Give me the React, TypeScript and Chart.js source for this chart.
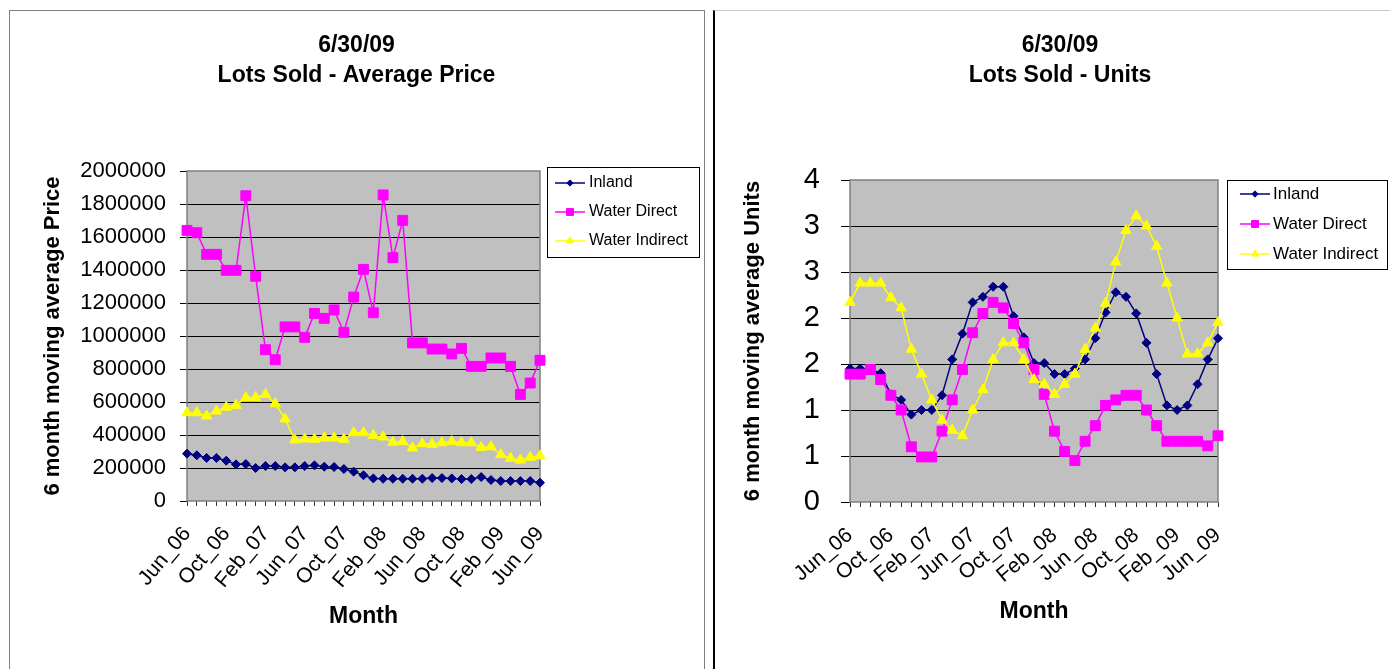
import React, { useEffect, useRef } from 'react';
import { Chart, registerables } from 'chart.js';

Chart.register(...registerables);

// ---------------- DATA ----------------
const months = [
  'Jun_06', 'Jul_06', 'Aug_06', 'Sep_06', 'Oct_06', 'Nov_06', 'Dec_06',
  'Jan_07', 'Feb_07', 'Mar_07', 'Apr_07', 'May_07', 'Jun_07', 'Jul_07', 'Aug_07', 'Sep_07', 'Oct_07', 'Nov_07', 'Dec_07',
  'Jan_08', 'Feb_08', 'Mar_08', 'Apr_08', 'May_08', 'Jun_08', 'Jul_08', 'Aug_08', 'Sep_08', 'Oct_08', 'Nov_08', 'Dec_08',
  'Jan_09', 'Feb_09', 'Mar_09', 'Apr_09', 'May_09', 'Jun_09',
];
const shownMonths = ['Jun_06', 'Oct_06', 'Feb_07', 'Jun_07', 'Oct_07', 'Feb_08', 'Jun_08', 'Oct_08', 'Feb_09', 'Jun_09'];

const seriesNames = ['Inland', 'Water Direct', 'Water Indirect'];

const priceInland = [
  287000, 277000, 261000, 261000, 244000, 222000, 224000, 200000, 212000, 212000, 204000, 204000,
  212000, 216000, 208000, 206000, 194000, 178000, 156000, 137000, 135000, 135000, 135000, 135000,
  135000, 139000, 139000, 137000, 133000, 133000, 145000, 127000, 121000, 121000, 121000, 121000, 111000,
];
const priceWaterDirect = [
  1640000, 1626000, 1495000, 1495000, 1398000, 1398000, 1850000, 1362000, 917000, 856000, 1055000, 1055000,
  992000, 1137000, 1107000, 1158000, 1022000, 1236000, 1404000, 1141000, 1855000, 1475000, 1701000, 958000,
  958000, 921000, 921000, 891000, 925000, 816000, 816000, 867000, 867000, 816000, 646000, 715000, 853000,
];
const priceWaterIndirect = [
  535000, 535000, 515000, 545000, 568000, 580000, 628000, 628000, 646000, 590000, 497000, 370000,
  376000, 374000, 382000, 382000, 374000, 414000, 414000, 398000, 388000, 356000, 360000, 321000,
  347000, 344000, 353000, 360000, 353000, 353000, 325000, 329000, 281000, 259000, 248000, 265000, 273000,
];

const unitsInland = [
  1.45, 1.45, 1.44, 1.40, 1.17, 1.11, 0.95, 1.0, 1.0, 1.16, 1.55, 1.83,
  2.17, 2.23, 2.34, 2.34, 2.02, 1.79, 1.51, 1.51, 1.39, 1.39, 1.45, 1.55,
  1.78, 2.06, 2.28, 2.23, 2.05, 1.73, 1.39, 1.05, 1.0, 1.05, 1.28, 1.55, 1.78,
];
const unitsWaterDirect = [
  1.39, 1.39, 1.44, 1.33, 1.16, 1.0, 0.60, 0.49, 0.49, 0.77, 1.11, 1.44,
  1.84, 2.05, 2.17, 2.11, 1.94, 1.73, 1.44, 1.17, 0.77, 0.55, 0.45, 0.66,
  0.83, 1.05, 1.11, 1.16, 1.16, 1.0, 0.83, 0.66, 0.66, 0.66, 0.66, 0.61, 0.72,
];
const unitsWaterIndirect = [
  2.17, 2.38, 2.38, 2.38, 2.22, 2.11, 1.66, 1.39, 1.11, 0.89, 0.78, 0.72,
  1.0, 1.22, 1.55, 1.73, 1.73, 1.55, 1.33, 1.28, 1.17, 1.28, 1.39, 1.66,
  1.89, 2.16, 2.61, 2.95, 3.11, 3.0, 2.78, 2.38, 2.0, 1.61, 1.61, 1.73, 1.95,
];

// ---------------- STYLE ----------------
const FONT = '"Liberation Sans", Arial, Helvetica, sans-serif';
const seriesColors = ['#000080', '#FF00FF', '#FFFF00'];
const seriesMarkers = ['rectRot', 'rect', 'triangle'];
const seriesRadius = [4.5, 7, 6];
const seriesOrder = [3, 2, 1];

function drawMarker(ctx: CanvasRenderingContext2D, style: string, x: number, y: number, r: number, color: string) {
  ctx.save();
  ctx.fillStyle = color;
  ctx.strokeStyle = color;
  ctx.lineWidth = 1;
  ctx.beginPath();
  if (style === 'rectRot') {
    ctx.moveTo(x, y - r);
    ctx.lineTo(x + r, y);
    ctx.lineTo(x, y + r);
    ctx.lineTo(x - r, y);
  } else if (style === 'rect') {
    const s = Math.SQRT1_2 * r;
    ctx.rect(x - s, y - s, 2 * s, 2 * s);
  } else {
    let a = 0;
    ctx.moveTo(x + Math.sin(a) * r, y - Math.cos(a) * r);
    a += (2 * Math.PI) / 3;
    ctx.lineTo(x + Math.sin(a) * r, y - Math.cos(a) * r);
    a += (2 * Math.PI) / 3;
    ctx.lineTo(x + Math.sin(a) * r, y - Math.cos(a) * r);
  }
  ctx.closePath();
  ctx.fill();
  ctx.stroke();
  ctx.restore();
}

const plotFrame = {
  id: 'plotFrame',
  beforeDraw(chart: any) {
    const { ctx, chartArea: a } = chart;
    ctx.save();
    ctx.fillStyle = '#C0C0C0';
    ctx.fillRect(a.left, a.top, a.right - a.left, a.bottom - a.top);
    ctx.restore();
  },
  beforeDatasetsDraw(chart: any) {
    const { ctx, chartArea: a } = chart;
    ctx.save();
    ctx.strokeStyle = '#808080';
    ctx.lineWidth = 1.5;
    ctx.strokeRect(a.left, a.top, a.right - a.left, a.bottom - a.top);
    ctx.restore();
  },
};

type LegendGeo = {
  gap: number; top: number; width: number; height: number;
  rows: number[]; lineStart: number; lineLen: number; textX: number; fontSize: number;
};

function makeLegendPlugin(g: LegendGeo) {
  return {
    id: 'boxLegend',
    afterDraw(chart: any) {
      const { ctx, chartArea } = chart;
      const x0 = Math.round(chartArea.right + g.gap);
      ctx.save();
      ctx.strokeStyle = '#000';
      ctx.lineWidth = 1;
      ctx.strokeRect(x0 + 0.5, g.top + 0.5, g.width, g.height);
      ctx.font = `${g.fontSize}px ${FONT}`;
      ctx.textBaseline = 'middle';
      ctx.textAlign = 'left';
      chart.data.datasets.forEach((ds: any, i: number) => {
        const y = g.rows[i];
        const lx0 = x0 + g.lineStart;
        const lx1 = lx0 + g.lineLen;
        ctx.strokeStyle = ds.borderColor;
        ctx.lineWidth = 1.5;
        ctx.beginPath();
        ctx.moveTo(lx0, y);
        ctx.lineTo(lx1, y);
        ctx.stroke();
        drawMarker(ctx, ds.pointStyle, (lx0 + lx1) / 2, y, ds.pointRadius * 0.7, ds.pointBackgroundColor);
        ctx.fillStyle = '#000';
        ctx.fillText(ds.label, x0 + g.textX, y);
      });
      ctx.restore();
    },
  };
}

type ChartGeo = {
  width: number; height: number;
  title: string[]; titlePadTop: number; titlePadBottom: number;
  yMax: number; yStep: number; yFormat: (v: number) => string;
  yTitle: string; yWidth: number; yTickSize: number; yTickLen: number; yTickPad: number; yTitlePad: number;
  xHeight: number; xTitlePad: number; xTickPad: number; xRotation: number;
  rightSpace: number;
  legend: LegendGeo;
};

function buildConfig(series: number[][], g: ChartGeo): any {
  return {
    type: 'line',
    data: {
      labels: months,
      datasets: series.map((data, i) => ({
        label: seriesNames[i],
        data,
        borderColor: seriesColors[i],
        backgroundColor: seriesColors[i],
        pointBackgroundColor: seriesColors[i],
        pointBorderColor: seriesColors[i],
        pointStyle: seriesMarkers[i],
        pointRadius: seriesRadius[i],
        pointBorderWidth: 1,
        borderWidth: 1.5,
        tension: 0,
        fill: false,
        order: seriesOrder[i],
      })),
    },
    options: {
      responsive: false,
      animation: false,
      events: [],
      layout: { padding: 0 },
      plugins: {
        legend: { display: false },
        tooltip: { enabled: false },
        title: {
          display: true,
          text: g.title,
          color: '#000',
          font: { family: FONT, size: 23, weight: 'bold', lineHeight: '30px' },
          padding: { top: g.titlePadTop, bottom: g.titlePadBottom },
        },
      },
      scales: {
        x: {
          type: 'category',
          offset: false,
          ticks: {
            autoSkip: false,
            maxRotation: g.xRotation,
            minRotation: g.xRotation,
            color: '#000',
            padding: g.xTickPad,
            font: { family: FONT, size: 21 },
            callback: (_v: any, i: number) => (shownMonths.includes(months[i]) ? months[i] : ''),
          },
          grid: { drawOnChartArea: false, drawTicks: true, tickLength: 5, tickColor: '#333', lineWidth: 1 },
          border: { display: false },
          title: {
            display: true,
            text: 'Month',
            color: '#000',
            font: { family: FONT, size: 23, weight: 'bold', lineHeight: 1.2 },
            padding: { top: 0, bottom: g.xTitlePad },
          },
          afterFit: (s: any) => { s.height = g.xHeight; },
        },
        y: {
          type: 'linear',
          position: 'left',
          min: 0,
          max: g.yMax,
          ticks: {
            stepSize: g.yStep,
            color: '#000',
            padding: g.yTickPad,
            font: { family: FONT, size: g.yTickSize },
            callback: (v: any) => g.yFormat(Number(v)),
          },
          grid: {
            color: (c: any) => (c.tick && (c.tick.value === 0 || c.tick.value === g.yMax) ? 'rgba(0,0,0,0)' : '#000'),
            lineWidth: 1,
            drawTicks: true,
            tickLength: g.yTickLen,
            tickColor: '#000',
          },
          border: { display: false },
          title: {
            display: true,
            text: g.yTitle,
            color: '#000',
            font: { family: FONT, size: 22, weight: 'bold', lineHeight: 1.2 },
            padding: { top: g.yTitlePad, bottom: 0 },
          },
          afterFit: (s: any) => { s.width = g.yWidth; },
        },
        legendSpace: {
          type: 'linear',
          position: 'right',
          display: true,
          grid: { display: false, drawTicks: false },
          border: { display: false },
          ticks: { display: false },
          afterFit: (s: any) => { s.width = g.rightSpace; },
        },
      },
    },
    plugins: [plotFrame, makeLegendPlugin(g.legend)],
  };
}

const priceGeo: ChartGeo = {
  width: 693, height: 658,
  title: ['6/30/09', 'Lots Sold - Average Price'], titlePadTop: 20, titlePadBottom: 80,
  yMax: 2000000, yStep: 200000, yFormat: (v) => String(v),
  yTitle: '6 month moving average Price', yWidth: 177, yTickSize: 22, yTickLen: 7, yTickPad: 14, yTitlePad: 30,
  xHeight: 168, xTitlePad: 39, xTickPad: 16, xRotation: 50,
  rightSpace: 163,
  legend: { gap: 7, top: 156, width: 152, height: 90, rows: [172, 201, 230], lineStart: 8, lineLen: 30, textX: 42, fontSize: 16 },
};

const unitsGeo: ChartGeo = {
  width: 690, height: 658,
  title: ['6/30/09', 'Lots Sold - Units'], titlePadTop: 20, titlePadBottom: 89,
  yMax: 3.5, yStep: 0.5, yFormat: (v) => String(Math.round(v)),
  yTitle: '6 month moving average Units', yWidth: 135, yTickSize: 29, yTickLen: 9, yTickPad: 21, yTitlePad: 25,
  xHeight: 167, xTitlePad: 44, xTickPad: 16, xRotation: 40,
  rightSpace: 187,
  legend: { gap: 9, top: 169, width: 160, height: 89, rows: [183, 213, 243], lineStart: 13, lineLen: 30, textX: 46, fontSize: 17 },
};

function LineChart({ series, geo }: { series: number[][]; geo: ChartGeo }) {
  const ref = useRef<HTMLCanvasElement | null>(null);
  useEffect(() => {
    if (!ref.current) return;
    const chart = new Chart(ref.current, buildConfig(series, geo));
    return () => chart.destroy();
  }, [series, geo]);
  return (
    <canvas
      ref={ref}
      width={geo.width}
      height={geo.height}
      style={{ display: 'block', width: geo.width, height: geo.height }}
    />
  );
}

const priceSeries = [priceInland, priceWaterDirect, priceWaterIndirect];
const unitsSeries = [unitsInland, unitsWaterDirect, unitsWaterIndirect];

export default function App() {
  return (
    <div style={{ position: 'fixed', left: 0, top: 0, width: 1390, height: 669, overflow: 'hidden', background: '#fff' }}>
      <div
        style={{
          position: 'absolute', left: 9, top: 10, width: 696, height: 700,
          boxSizing: 'border-box', border: '1px solid #808080', overflow: 'hidden',
        }}
      >
        <LineChart series={priceSeries} geo={priceGeo} />
      </div>
      <div
        style={{
          position: 'absolute', left: 713, top: 10, width: 700, height: 700,
          boxSizing: 'border-box', borderLeft: '2px solid #000', borderTop: '1px solid #C8C8C8', overflow: 'hidden',
        }}
      >
        <LineChart series={unitsSeries} geo={unitsGeo} />
      </div>
    </div>
  );
}
